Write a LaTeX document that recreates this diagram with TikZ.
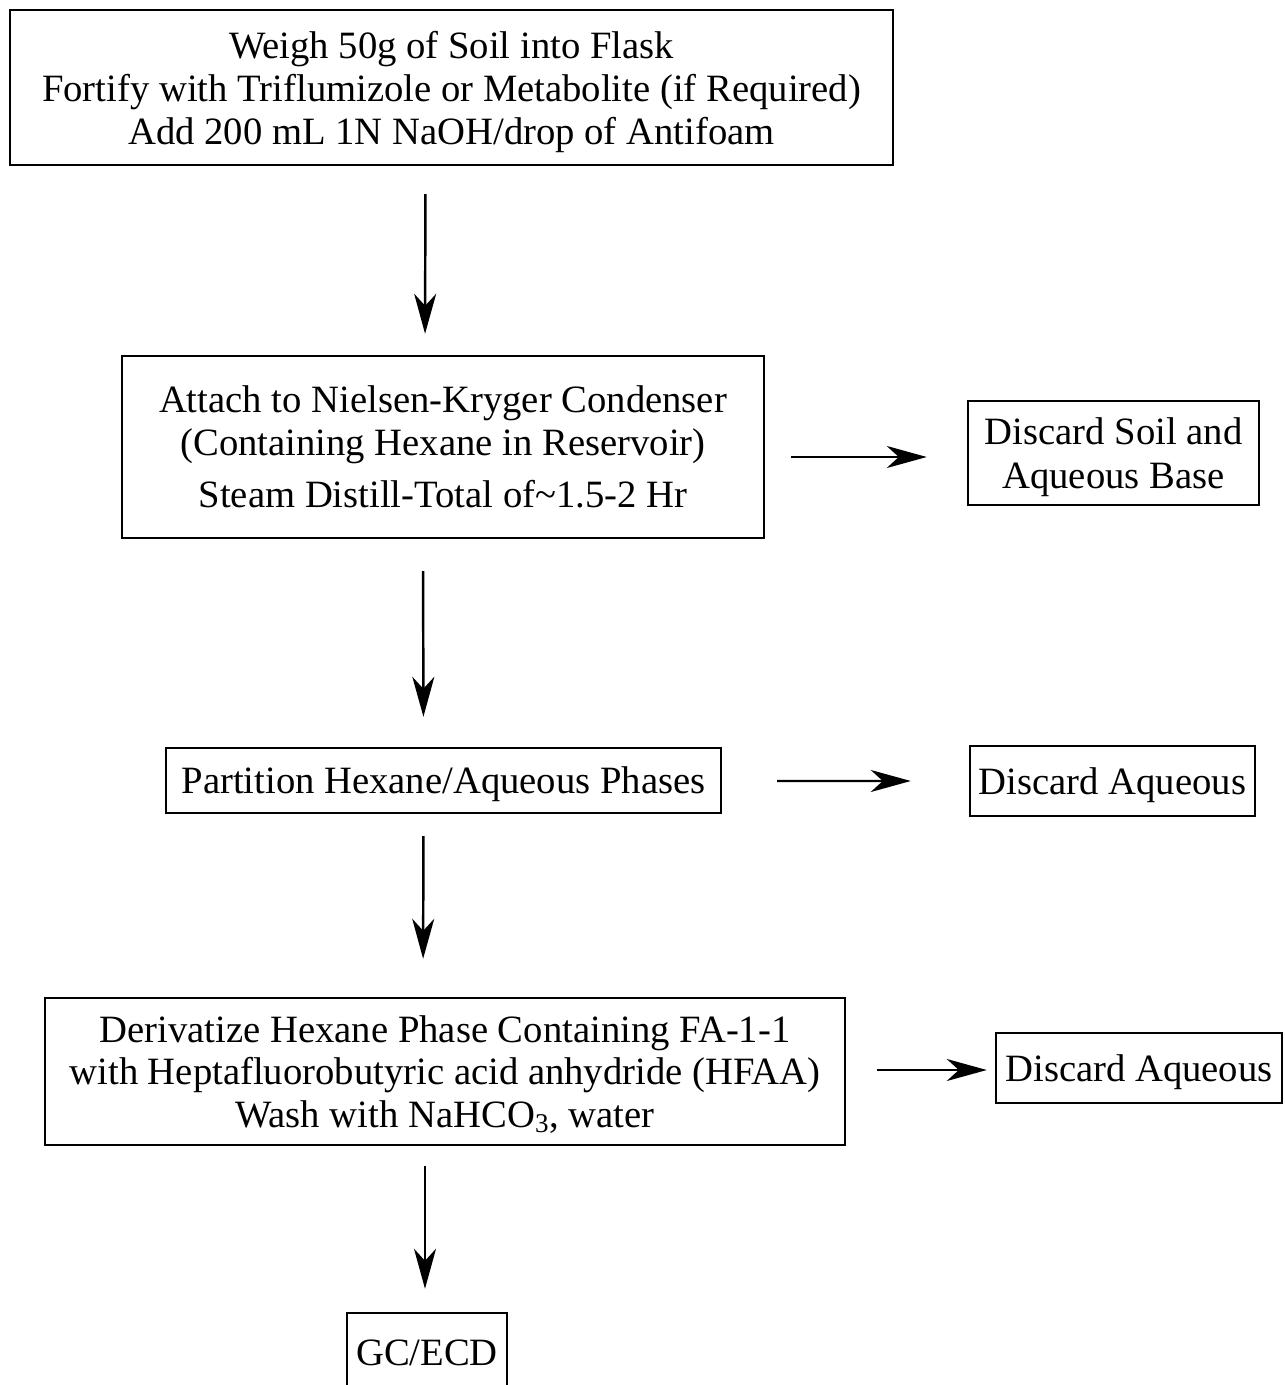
\documentclass[tikz,border=0pt]{standalone}
\usepackage{fontspec}
\setmainfont{Liberation Serif}
\usetikzlibrary{arrows.meta,calc}

\begin{document}
\begin{tikzpicture}[x=0.2mm,y=-0.2mm,
	step_box/.style={draw,line width=1.4pt,inner sep=0pt,align=center,font=\fontsize{22}{24.5}\selectfont},
	flow/.style={line width=1.4pt,-{Stealth[length=8mm,width=4.4mm,inset=2.4mm]}}]
		
		\useasboundingbox (0,0) rectangle (1284,1385);
		
		\node[step_box,minimum width=176.6mm,minimum height=31mm,text depth=-5.2pt] (weigh) at (451.5,87.5) {Weigh 50g of Soil into Flask\\Fortify with Triflumizole or Metabolite (if Required)\\Add 200 mL 1N NaOH/drop of Antifoam};
		\node[step_box,minimum width=128.4mm,minimum height=36.4mm] (distill) at (443,447) {Attach to Nielsen-Kryger Condenser\\(Containing Hexane in Reservoir)\\[5pt]Steam Distill-Total of\textasciitilde1.5-2 Hr};
		\node[step_box,minimum width=58.2mm,minimum height=20.8mm,text depth=-5.6pt,font=\fontsize{22}{25}\selectfont] (discard1) at (1113.5,453) {Discard Soil and\\Aqueous Base};
		\node[step_box,minimum width=111mm,minimum height=13mm,text depth=0pt] (partition) at (443.5,780.5) {Partition Hexane/Aqueous Phases};
		\node[step_box,minimum width=57mm,minimum height=14mm,text depth=0pt] (discard2) at (1112.5,781) {Discard Aqueous};
		\node[step_box,minimum width=160mm,minimum height=29.4mm,text depth=-2.6pt,font=\fontsize{22}{24}\selectfont] (derive) at (445,1071.5) {Derivatize Hexane Phase Containing FA-1-1\\with Heptafluorobutyric acid anhydride (HFAA)\\Wash with NaHCO\textsubscript{3}, water};
		\node[step_box,minimum width=57.2mm,minimum height=14mm,text depth=-2pt] (discard3) at (1139,1068) {Discard Aqueous};
		\node[step_box,minimum width=32mm,minimum height=16mm] (gc) at (427,1353) {GC/ECD};
		
		
		\draw[flow,shorten <=5.6mm,shorten >=4.2mm] ($(weigh.south)+(-26,0)$) -- ($(distill.north)+(-18,0)$);
		\draw[flow,shorten <=6.4mm,shorten >=6mm] ($(distill.south)+(-20,0)$) -- ($(partition.north)+(-20,0)$);
		\draw[flow,shorten <=4.4mm,shorten >=7.6mm] ($(partition.south)+(-20,0)$) -- ($(derive.north)+(-22,0)$);
		\draw[flow,shorten <=4mm,shorten >=4.6mm] ($(derive.south)+(-20,0)$) -- ($(gc.north)+(-2,0)$);
		\draw[flow,shorten <=5.2mm,shorten >=8mm] ($(distill.east)+(0,10)$) -- ($(discard1.west)+(0,4)$);
		\draw[flow,shorten <=11mm,shorten >=11.6mm] ($(partition.east)+(0,0.5)$) -- (discard2.west);
		\draw[flow,shorten <=6.2mm,shorten >=1.6mm] ($(derive.east)+(0,-1.5)$) -- ($(discard3.west)+(0,2)$);
		\end{tikzpicture}
\end{document}
